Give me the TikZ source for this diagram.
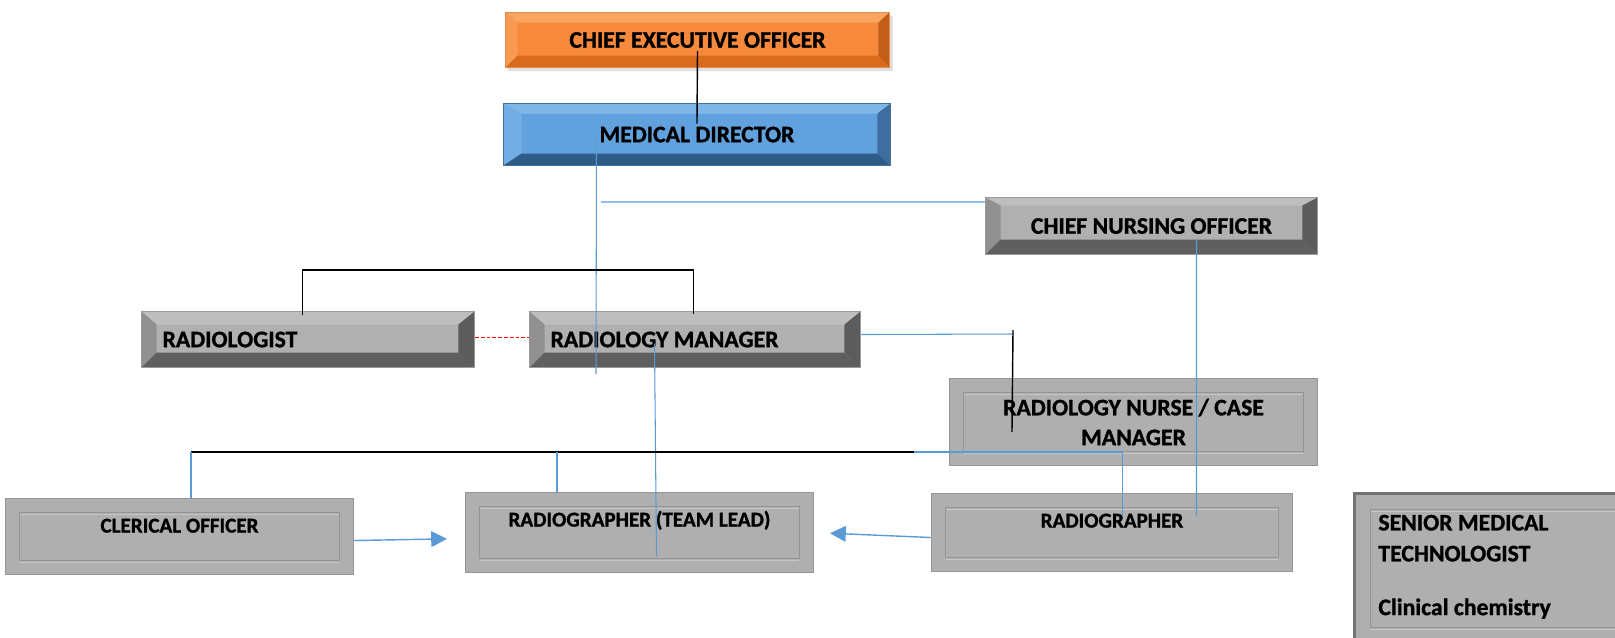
\documentclass[tikz,border=0pt]{standalone}
\usepackage{fontspec}
\setmainfont{Carlito}[BoldFeatures={FakeBold=1.2}]
\usetikzlibrary{arrows.meta}

\definecolor{orgface}{HTML}{F6893B}
\definecolor{orgtop}{HTML}{F9A460}
\definecolor{orgleft}{HTML}{F89A52}
\definecolor{orgbot}{HTML}{DA6B1D}
\definecolor{orgright}{HTML}{C25E18}
\definecolor{orgline}{HTML}{E58A48}
\definecolor{bluface}{HTML}{61A2DE}
\definecolor{blutop}{HTML}{80B7E9}
\definecolor{bluleft}{HTML}{72AEE5}
\definecolor{blubot}{HTML}{2F5B87}
\definecolor{bluright}{HTML}{3E6E9F}
\definecolor{bluline}{HTML}{41719C}
\definecolor{gryface}{HTML}{B0B0B0}
\definecolor{grytop}{HTML}{BEBEBE}
\definecolor{gryleft}{HTML}{909090}
\definecolor{grybot}{HTML}{5F5F5F}
\definecolor{gryright}{HTML}{5C5C5C}
\definecolor{gryline}{HTML}{9A9A9A}
\definecolor{frmface}{HTML}{AFAFAF}
\definecolor{frmline}{HTML}{959595}
\definecolor{frmlight}{HTML}{C6C6C6}
\definecolor{frmdark}{HTML}{737373}
\definecolor{connblue}{HTML}{5B9BD5}

% bevel faces of a box: colour prefix, then left, top, right, bottom inset
\newcommand\bevelfaces[5]{%
  \coordinate (bnw) at (path picture bounding box.north west);
  \coordinate (bne) at (path picture bounding box.north east);
  \coordinate (bsw) at (path picture bounding box.south west);
  \coordinate (bse) at (path picture bounding box.south east);
  \coordinate (inw) at ([shift={(#2,#3)}]bnw);
  \coordinate (ine) at ([shift={(-#4,#3)}]bne);
  \coordinate (isw) at ([shift={(#2,-#5)}]bsw);
  \coordinate (ise) at ([shift={(-#4,-#5)}]bse);
  \fill[#1top] (bnw) -- (bne) -- (ine) -- (inw) -- cycle;
  \fill[#1left] (bnw) -- (inw) -- (isw) -- (bsw) -- cycle;
  \fill[#1bot] (bsw) -- (isw) -- (ise) -- (bse) -- cycle;
  \fill[#1right] (bne) -- (bse) -- (ise) -- (ine) -- cycle;
}

\begin{document}
\begin{tikzpicture}[x=0.02cm,y=-0.02cm,
  bevelbox/.style 2 args={rectangle, fill=#1face, draw=#1line, line width=0.6pt,
    anchor=north west, path picture={\bevelfaces{#1}#2}},
  framebox/.style={rectangle, fill=frmface, draw=frmline, line width=0.6pt,
    anchor=north west, path picture={
      \draw[frmlight, line width=0.9pt] ([shift={(#1+1,#1+2)}]path picture bounding box.north west)
        -- ([shift={(-#1,#1+2)}]path picture bounding box.north east);
      \draw[frmlight, line width=0.9pt] ([shift={(#1,-#1+2)}]path picture bounding box.south west)
        -- ([shift={(-#1,-#1+2)}]path picture bounding box.south east);
      \draw[frmline, line width=0.6pt] ([shift={(#1,#1)}]path picture bounding box.north west)
        rectangle ([shift={(-#1,-#1)}]path picture bounding box.south east);}},
  framebox/.default=14,
  bigtxt/.style={font=\fontsize{13.5}{17}\selectfont\bfseries},
  smalltxt/.style={font=\fontsize{12}{14}\selectfont\bfseries},
  blueln/.style={connblue, line width=0.6pt},
  blackln/.style={black, line width=1.1pt},
  arrowln/.style={connblue, line width=0.8pt, -{Triangle[length=9pt,width=9pt]}}]
\useasboundingbox (0,0) rectangle (1615,637);

\fill[black, opacity=0.12] (508,16) rectangle (893,71);
\node[bevelbox={org}{{12}{10}{11}{12}}, bigtxt, minimum width=7.68cm, minimum height=1.1cm] (ceo) at (505,12) {CHIEF EXECUTIVE OFFICER};
\node[bevelbox={blu}{{18}{10}{13}{12}}, bigtxt, minimum width=7.74cm, minimum height=1.24cm] (md) at (503,103) {MEDICAL DIRECTOR};
\node[bevelbox={gry}{{15}{8}{15}{15}}, bigtxt, minimum width=6.64cm, minimum height=1.14cm] (cno) at (985,197) {CHIEF NURSING OFFICER};
\node[bevelbox={gry}{{15}{13}{16}{15}}, bigtxt, minimum height=1.12cm, inner xsep=0.42cm, text width=5.82cm, align=flush left] (rad) at (141,311) {RADIOLOGIST};
\node[bevelbox={gry}{{15}{13}{16}{15}}, bigtxt, minimum height=1.12cm, inner xsep=0.42cm, text width=5.78cm, align=flush left] (rm) at (529,311) {RADIOLOGY MANAGER};
\node[framebox, bigtxt, minimum width=7.36cm, minimum height=1.74cm, align=flush center] (nurse) at (949,378) {RADIOLOGY NURSE / CASE\\MANAGER};
\node[framebox, smalltxt, minimum width=6.96cm, inner ysep=0pt, text height=0.68cm, text depth=0.84cm] (clk) at (5,498) {CLERICAL OFFICER};
\node[framebox, smalltxt, minimum width=6.96cm, inner ysep=0pt, text height=0.68cm, text depth=0.92cm] (rtl) at (465,492) {RADIOGRAPHER (TEAM LEAD)};
\node[framebox, smalltxt, minimum width=7.22cm, inner ysep=0pt, text height=0.68cm, text depth=0.88cm] (rg) at (931,493) {RADIOGRAPHER};
\node[framebox=16, draw=frmdark, line width=1.6pt, bigtxt, inner ysep=0pt, inner xsep=0.48cm, text width=4.84cm, align=flush left,
  text height=0.74cm, text depth=2.26cm, font=\fontsize{13.5}{17.6}\selectfont\bfseries] (smt) at (1353,492)
  {SENIOR MEDICAL\\TECHNOLOGIST\\[13pt]Clinical chemistry};

\coordinate (mdend) at (596,374);
\coordinate (cnostart) at (601,202);
\coordinate (rmtip) at (1013,334);
\coordinate (busl) at (191,452);
\coordinate (busm) at (557,452);
\coordinate (busr) at (914,452);

\draw[black, line width=0.8pt] ([yshift=-0.22cm]ceo.center) -- ([yshift=0.22cm]md.center);
\draw[blueln] ([xshift=-2.01cm,yshift=-0.06cm]md.center) -- (mdend);
\draw[blueln] (cnostart) -- ([yshift=-0.1cm]cno.north west);
\draw[blackln] ([xshift=-0.11cm,yshift=-0.08cm]rad.north) -- ++(0,-45) -| ([xshift=-0.03cm,yshift=-0.06cm]rm.north);
\draw[red, dash pattern=on 2.2pt off 1.1pt, line width=0.9pt] ([yshift=0.04cm]rad.east) -- ([yshift=0.04cm]rm.west);
\draw[blueln] ([yshift=0.1cm]rm.east) -- (rmtip);
\draw[black, line width=0.8pt] ([yshift=0.08cm]rmtip) -- ([xshift=1.26cm,yshift=-1.08cm]nurse.north west);
\draw[blueln] ([xshift=-0.81cm,yshift=-0.08cm]rm.center) -- ([xshift=0.34cm,yshift=-0.48cm]rtl.center);
\draw[blueln] ([xshift=0.9cm,yshift=-0.27cm]cno.center) -- ([xshift=1.69cm,yshift=0.34cm]rg.center);
\draw[blackln] (busl) -- (busr);
\draw[blueln] (busl) -- (busl |- clk.north);
\draw[blueln] (busm) -- (busm |- rtl.north);
\draw[blueln] (busr) -| ([xshift=0.21cm,yshift=0.34cm]rg.center);
\draw[arrowln, shorten >=0.36cm] ([yshift=-0.08cm]clk.east) -- ([yshift=-0.12cm]rtl.west);
\draw[arrowln, shorten >=0.32cm] ([yshift=-0.1cm]rg.west) -- (rtl.east);
\end{tikzpicture}
\end{document}
